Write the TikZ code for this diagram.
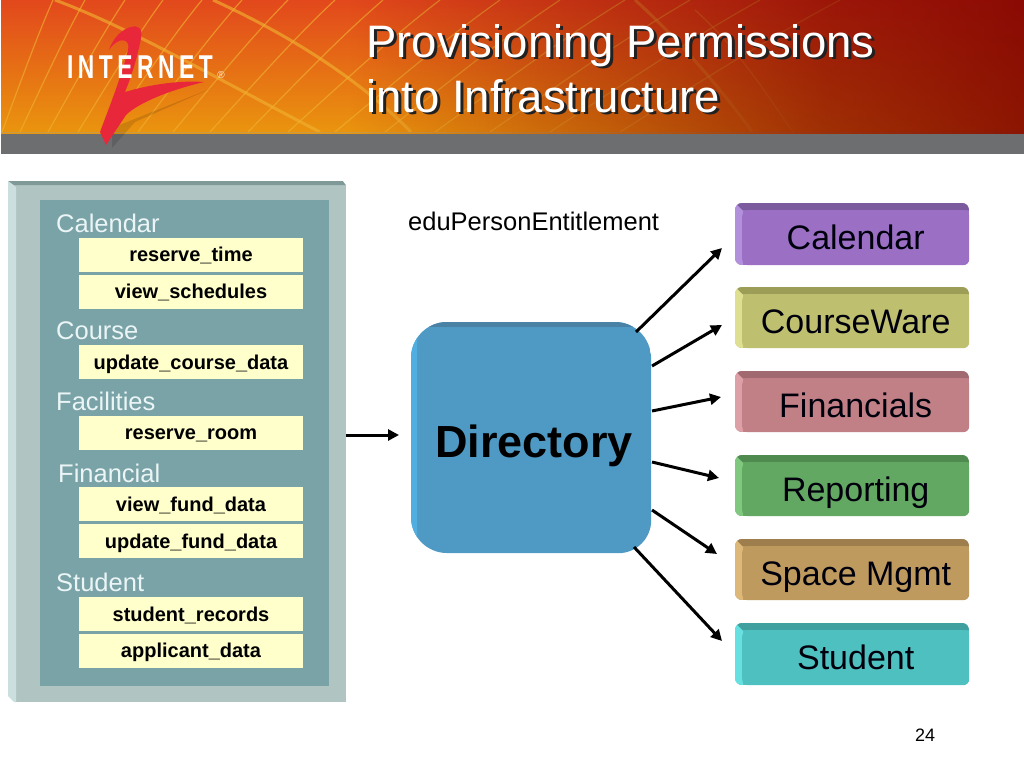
\documentclass[tikz,border=0pt]{standalone}
\usepackage{fontspec}
\setmainfont{Liberation Sans}
\newfontfamily\logofont[LetterSpace=20]{Liberation Sans}
\usetikzlibrary{arrows.meta,fadings}
\pgfdeclarehorizontalshading{hdark}{100bp}{color(0bp)=(transparent!100); color(30bp)=(transparent!100); color(42bp)=(transparent!100); color(55bp)=(transparent!62); color(65bp)=(transparent!32); color(75bp)=(transparent!14); color(85bp)=(transparent!4); color(93bp)=(transparent!0); color(100bp)=(transparent!0)}
\tikzfading[name=hdarkfade,shading=hdark]
\definecolor{hdrtop}{HTML}{E2481C}
\definecolor{hdrbot}{HTML}{EA950E}
\definecolor{hdrdark}{HTML}{7C0000}
\definecolor{hdrgrey}{HTML}{6D6E70}
\definecolor{gridc}{HTML}{F0B030}
\definecolor{permfill}{HTML}{FFFFCC}
\definecolor{panelmain}{HTML}{B0C4C2}
\definecolor{panellight}{HTML}{CBDFDF}
\definecolor{paneldark}{HTML}{7F9999}
\definecolor{panelinner}{HTML}{7AA3A8}
\definecolor{logored}{HTML}{E8283A}
\tikzset{
  thinline/.style={gridc,line width=1.2pt,opacity=.65},
  thickline/.style={gridc,line width=3pt,opacity=.65},
  titletext/.style={anchor=base west,inner sep=0pt,font=\fontsize{45.5}{45.5}\selectfont},
  perm/.style={fill=permfill,minimum width=224pt,minimum height=34pt,inner sep=0pt,text height=14.4pt,text depth=0pt,font=\fontsize{20}{20}\selectfont\bfseries},
  grouplabel/.style={anchor=west,inner sep=0pt,text=white!92!teal,font=\fontsize{25.5}{25.5}\selectfont},
  linkarrow/.style={-{Triangle[length=11pt,width=11pt]},line width=3pt,black},
  face/.style={inner sep=0pt,text height=24.5pt,text depth=0pt,font=\fontsize{34}{34}\selectfont,text=black!95!blue}
}
% name, x1,y1,x2,y2, main, light, dark, text
\newcommand{\bevbox}[9]{%
  \begin{scope}
    \clip[rounded corners=7pt] (#2,#3) rectangle (#4,#5);
    \fill[#6] (#2,#3) rectangle (#4,#5);
    \fill[#8] (#2,#3) -- (#4,#3) -- (#4,#3+7) -- (#2+7,#3+7) -- cycle;
    \fill[#7] (#2,#3) -- (#2+8,#3+8) -- (#2+8,#5) -- (#2,#5-1) -- cycle;
  \end{scope}
  \pgfmathsetmacro{\bw}{#4-#2-7}\pgfmathsetmacro{\bh}{#5-#3-7}
  \node[face,fill=#6,rounded corners=6pt,anchor=north west,minimum width=\bw pt,minimum height=\bh pt] (#1) at (#2+7,#3+7) {#9};
}
\definecolor{cpur}{HTML}{9A6FC4}\definecolor{cpurl}{HTML}{B290DC}\definecolor{cpurd}{HTML}{7B5A9E}
\definecolor{coli}{HTML}{BFC06F}\definecolor{colil}{HTML}{DEDF90}\definecolor{colid}{HTML}{9C9E58}
\definecolor{cpin}{HTML}{C08086}\definecolor{cpinl}{HTML}{DDA0A6}\definecolor{cpind}{HTML}{A06A70}
\definecolor{cgre}{HTML}{62A862}\definecolor{cgrel}{HTML}{80C880}\definecolor{cgred}{HTML}{4F8A4F}
\definecolor{ctan}{HTML}{BF9A5F}\definecolor{ctanl}{HTML}{DDB878}\definecolor{ctand}{HTML}{9E7E4C}
\definecolor{ctea}{HTML}{4FC0C0}\definecolor{cteal}{HTML}{66E0E0}\definecolor{cted}{HTML}{40A0A0}
\definecolor{dmain}{HTML}{4E9AC4}\definecolor{dlight}{HTML}{50AEE0}\definecolor{ddark}{HTML}{4A82A6}
\begin{document}
\begin{tikzpicture}[x=1pt,y=-1pt]
\useasboundingbox (0,0) rectangle (1024,768);
\fill[white] (0,0) rectangle (1024,768);
% header
\fill[hdrgrey] (1,133) rectangle (1024,153.5);
\begin{scope}
\clip (1,1) rectangle (1024,133);
\shade[top color=hdrtop,bottom color=hdrbot] (0,0) rectangle (1024,133);
\foreach \xb/\xt in {2/53,20/85,48/125,78/163,107/202,138/242,173/288,210/335,248/383,288/440,335/500,385/560,435/625,490/690,550/760,620/840}
  \draw[thinline] (\xb,132) .. controls ({\xb+(\xt-\xb)*.45},{70}) and ({\xb+(\xt-\xb)*.7},{35}) .. (\xt,0);
\draw[thickline] (55,0) .. controls (130,28) and (210,75) .. (320,132);
\draw[thickline] (213,0) .. controls (300,40) and (365,85) .. (411,132);
\draw[thickline,opacity=.5] (635,0) .. controls (680,40) and (730,100) .. (752,132);
\draw[thinline,opacity=.5] (695,10) .. controls (740,50) and (770,100) .. (793,132);
\draw[gridc!70!hdrgrey,line width=1pt] (1,132.6) -- (1024,132.6);
\fill[hdrdark,path fading=hdarkfade] (0,-10) rectangle (1030,142);
\end{scope}
% logo
\fill[black,opacity=.12] (112,148) -- (112,128) -- (212,88) -- (135,122) -- cycle;
\fill[logored] (109,50) .. controls (113,38) and (122,29) .. (131,27)
  .. controls (138,25) and (143,28) .. (141,38)
  .. controls (138,55) and (132,75) .. (125,92)
  .. controls (145,86) and (175,80) .. (204,82)
  .. controls (170,90) and (138,103) .. (126,115)
  -- (106,145) -- (100,132)
  .. controls (110,105) and (122,75) .. (128,50)
  .. controls (131,38) and (118,36) .. (109,50) -- cycle;
\node[inner sep=0pt,anchor=center,text=white,xscale=.69,transform shape,font=\logofont\bfseries\fontsize{33}{33}\selectfont] (logoword) at (140,67) {INTERNET};
\node[inner sep=0pt,text=white!85!orange,font=\fontsize{10}{10}\selectfont] (logoreg) at (221,75) {®};
% title
\node[titletext,text=black!70!hdrgrey] (t1s) at (369,59.5) {Provisioning Permissions};
\node[titletext,text=black!70!hdrgrey] (t2s) at (369,114.5) {into Infrastructure};
\node[titletext,text=white] (t1) at (366,57) {Provisioning Permissions};
\node[titletext,text=white] (t2) at (366,112) {into Infrastructure};
% left panel
\fill[panelmain] (8,181) rectangle (346,702);
\fill[paneldark] (8,181) -- (343,181) -- (346,185) -- (14,185) -- cycle;
\fill[panellight] (8,181) -- (16,187) -- (16,702) -- (14,702) -- (8,696) -- cycle;
\fill[white] (8,696) -- (14,702) -- (8,702) -- cycle;
\fill[white] (343,181) -- (346,181) -- (346,185) -- cycle;
\node[fill=panelinner,minimum width=289pt,minimum height=486pt,inner sep=0pt,anchor=north west] (panel) at (40,200) {};
\node[grouplabel] (gcal) at (56,223) {Calendar};
\node[perm] (p1) at (191,254.5) {reserve\_time};
\node[perm] (p2) at (191,291.5) {view\_schedules};
\node[grouplabel] (gcou) at (56,331) {Course};
\node[perm] (p3) at (191,362) {update\_course\_data};
\node[grouplabel] (gfac) at (56,401) {Facilities};
\node[perm] (p4) at (191,432.5) {reserve\_room};
\node[grouplabel] (gfin) at (58,473) {Financial};
\node[perm] (p5) at (191,504) {view\_fund\_data};
\node[perm] (p6) at (191,541) {update\_fund\_data};
\node[grouplabel] (gstu) at (56,582) {Student};
\node[perm] (p7) at (191,614) {student\_records};
\node[perm] (p8) at (191,650.5) {applicant\_data};
% directory
\begin{scope}
\clip[rounded corners=36pt] (411,322) rectangle (651,553);
\fill[dmain] (411,322) rectangle (651,553);
\fill[ddark] (411,322) rectangle (651,327);
\fill[dlight] (411,322) -- (417,327) -- (417,553) -- (411,553) -- cycle;
\end{scope}
\node[fill=dmain,rounded corners=33pt,minimum width=234pt,minimum height=226pt,inner sep=0pt,anchor=north west] (dir) at (417,327) {};
\node[inner sep=0pt,text height=32.4pt,text depth=0pt,font=\fontsize{45}{45}\selectfont\bfseries] (dirlabel) at (534,441) {Directory};
% label
\node[inner sep=0pt,anchor=base west,font=\fontsize{25.5}{25.5}\selectfont] (ent) at (408,230) {eduPersonEntitlement};
% right boxes
\bevbox{b1}{735}{203}{969}{265}{cpur}{cpurl}{cpurd}{Calendar}
\bevbox{b2}{735}{287}{969}{348}{coli}{colil}{colid}{CourseWare}
\bevbox{b3}{735}{371}{969}{432}{cpin}{cpinl}{cpind}{Financials}
\bevbox{b4}{735}{455}{969}{516}{cgre}{cgrel}{cgred}{Reporting}
\bevbox{b5}{735}{539}{969}{600}{ctan}{ctanl}{ctand}{Space Mgmt}
\bevbox{b6}{735}{623}{969}{685}{ctea}{cteal}{cted}{Student}
% arrows
\coordinate (a0s) at (346,435); \coordinate (a0e) at (399,435);
\draw[linkarrow] (a0s) -- (a0e);
\coordinate (s1) at (636,332); \coordinate (e1) at (722,248);
\coordinate (s2) at (652,366); \coordinate (e2) at (722,325);
\coordinate (s3) at (652,411); \coordinate (e3) at (721,397);
\coordinate (s4) at (652,462); \coordinate (e4) at (719,478);
\coordinate (s5) at (652,510); \coordinate (e5) at (717,554);
\coordinate (s6) at (634,547); \coordinate (e6) at (722,641);
\foreach \i in {1,...,6} \draw[linkarrow] (s\i) -- (e\i);
% page number
\node[inner sep=0pt,font=\fontsize{18}{18}\selectfont] (pg) at (925,735) {24};
\end{tikzpicture}
\end{document}
